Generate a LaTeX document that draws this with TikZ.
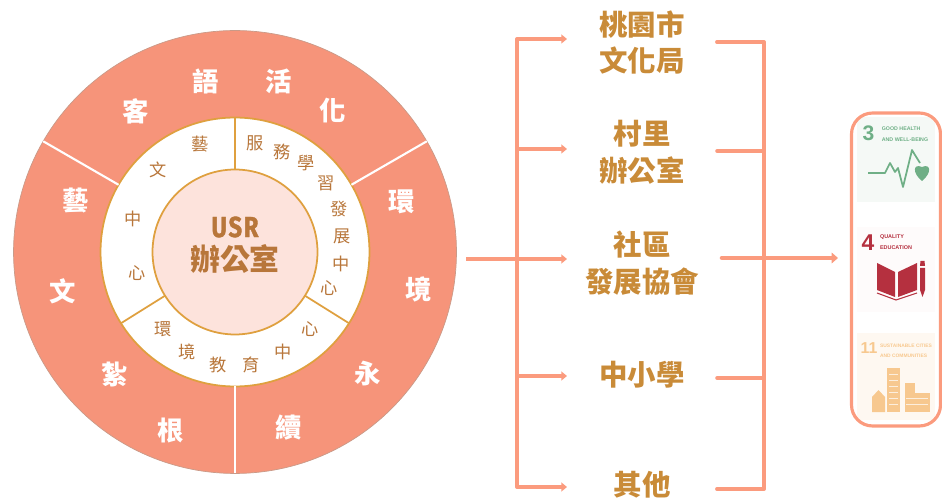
\documentclass[tikz,border=0pt]{standalone}
\usepackage{fontspec}
\usepackage{tikz}
\usetikzlibrary{arrows.meta,calc,positioning}
\newfontfamily\cjkfont{Noto Sans CJK TC}
\newfontfamily\usrfont[FakeStretch=0.82,LetterSpace=6,FakeBold=1.2]{Fira Sans}
\newfontfamily\logofont{Liberation Sans}
\definecolor{ringsalmon}{HTML}{F6947A}
\definecolor{ringedge}{HTML}{C99A88}
\definecolor{ringgold}{HTML}{DFA03F}
\definecolor{corepink}{HTML}{FDE3DC}
\definecolor{coretext}{HTML}{B8763A}
\definecolor{partnertext}{HTML}{C98B38}
\definecolor{linkorange}{HTML}{FB9B7E}
\definecolor{sdggreen}{HTML}{6FAF86}
\definecolor{sdgred}{HTML}{B5303F}
\definecolor{sdgorange}{HTML}{F7C88F}
\tikzset{
	disc/.style = {circle, draw = ringgold, line width = 1pt, inner sep = 0pt, outer sep = 0pt},
	ringword/.style = {font = \cjkfont\bfseries\fontsize{15}{15}\selectfont, text = white, inner sep = 0pt},
	innerword/.style = {font = \cjkfont\fontsize{9.8}{10}\selectfont, text = coretext, inner sep = 0pt},
	partner/.style = {font = \cjkfont\bfseries\fontsize{16.2}{21}\selectfont, text = partnertext, align = center,
		minimum width = 3cm, inner sep = 0pt, outer sep = 0pt},
	trunk/.style = {draw = linkorange, line width = 2.2pt, line cap = round, line join = round},
	branch/.style = {draw = linkorange, line width = 2pt, -{Triangle[width = 5pt, length = 3.2pt]}},
	stub/.style = {draw = linkorange, line width = 2pt, line cap = round}
}
\begin{document}
\begin{tikzpicture}[x = 0.02cm, y = -0.02cm]
	\useasboundingbox (0,0) rectangle (942,499);

	\node[disc, draw = ringedge, line width = 0.4pt, fill = ringsalmon, minimum size = 8.86cm] (outerdisc) at (235,252) {};
	\node[disc, fill = white, minimum size = 5.38cm] (middisc) at (235,252) {};
	\draw[white, line width = 1.2pt] (middisc.30) -- (outerdisc.30);
	\draw[white, line width = 1.2pt] (middisc.150) -- (outerdisc.150);
	\draw[white, line width = 1.2pt] (middisc.270) -- (outerdisc.270);
	\node[disc, fill = corepink, minimum size = 3.3cm] (core) at (235,252) {};
	\draw[ringgold, line width = 1pt] (core.90) -- (middisc.90);
	\draw[ringgold, line width = 1pt] (core.212) -- (middisc.212);
	\draw[ringgold, line width = 1pt] (core.328) -- (middisc.328);
	\node[text = coretext, inner sep = 0pt] (usr) at (235,227) {\usrfont\bfseries\fontsize{16.5}{17}\selectfont USR};
	\node[text = coretext, inner sep = 0pt] (office) at (235,259) {\cjkfont\bfseries\fontsize{17}{17}\selectfont 辦公室};

	\foreach \ch/\px/\py [count = \i] in {客/136/111, 語/205.5/81, 活/278.5/81, 化/333/111, 環/402/202, 境/419/289,
		永/368/374, 續/289/428, 根/171/431, 紮/115/375, 文/63/291, 藝/76/201}
		\node[ringword] (outer\i) at (\px,\py) {\ch};

	\foreach \ch/\px/\py [count = \i] in {藝/200/144, 文/158/170, 中/133/219, 心/137/273, 服/255/143, 務/282/152,
		學/306/163, 習/326/183, 發/339/209, 展/342/236, 中/341/264, 心/329/288, 心/310/329, 中/283/352,
		育/251/365, 教/218/365, 境/187/352, 環/163/329}
		\node[innerword] (inner\i) at (\px,\py) {\ch};

	\node[partner] (cityoffice) at (642,42.5) {桃園市\\文化局};
	\node[partner] (village) at (642,152.5) {村里\\辦公室};
	\node[partner] (community) at (642,263.5) {社區\\發展協會};
	\node[partner] (school) at (642,375) {中小學};
	\node[partner] (others) at (642,485) {其他};

	\coordinate (ltop) at (517,39);
	\coordinate (lvillage) at (517,149);
	\coordinate (lmid) at (517,259);
	\coordinate (lschool) at (517,376);
	\coordinate (lbottom) at (517,487);
	\coordinate (entry) at (466,259);
	\coordinate (rtop) at (764,42);
	\coordinate (rvillage) at (764,151);
	\coordinate (rschool) at (764,378);
	\coordinate (rbottom) at (764,489);
	\coordinate (rout) at (722,258);
	\coordinate (sdgin) at (838,258);

	\draw[trunk] (ltop -| cityoffice.west) ++(-6,0) -- (ltop) -- (lbottom) -- ++(6,0);
	\draw[branch] (ltop) -- (ltop -| cityoffice.west);
	\draw[branch] (lvillage) -- (lvillage -| village.west);
	\draw[branch, line width = 1.85pt] (entry) -- (lmid -| community.west);
	\draw[branch] (lschool) -- (lschool -| school.west);
	\draw[branch] (lbottom) -- (lbottom -| others.west);

	\draw[trunk] (rtop -| cityoffice.east) -- (rtop) -- (rbottom) -- (rbottom -| others.east);
	\draw[stub] (rvillage -| village.east) -- (rvillage);
	\draw[stub] (rschool -| school.east) -- (rschool);
	\draw[draw = linkorange, line width = 2.6pt, line cap = round, -{Triangle[width = 6pt, length = 3.6pt]}] (rout) -- (sdgin);

	\fill[sdggreen, opacity = 0.07] (857,117) rectangle (935,202);
	\node[text = sdggreen, inner sep = 0pt, font = \logofont\bfseries\fontsize{12}{12}\selectfont] (goalthree) at (868.5,133) {3};
	\node[text = sdggreen, inner sep = 0pt, align = left, font = \logofont\bfseries\fontsize{3}{6.4}\selectfont] (goalthreetext) at (905,134) {GOOD HEALTH\\AND WELL-BEING};
	\draw[sdggreen, line width = 1pt, line join = round] (868,173) -- (885,173) -- (890,163) -- (895,172) -- (898,168) -- (903,187) -- (912,150) -- (915,155) -- (920,163);
	\fill[sdggreen] (922,181) .. controls (912,173) and (913,163) .. (922,167) .. controls (931,163) and (932,173) .. (922,181);

	\fill[sdgred, opacity = 0.02] (857,227) rectangle (935,312);
	\node[text = sdgred, inner sep = 0pt, font = \logofont\bfseries\fontsize{13}{13}\selectfont] (goalfour) at (868,243) {4};
	\node[text = sdgred, inner sep = 0pt, align = left, font = \logofont\bfseries\fontsize{3.1}{6.6}\selectfont] (goalfourtext) at (896,242) {QUALITY\\EDUCATION};
	\fill[sdgred] (877,263) -- (895,272) -- (895,297) -- (877,290) -- cycle;
	\fill[sdgred] (898,272) -- (917,263) -- (917,290) -- (898,297) -- cycle;
	\draw[sdgred, line width = 0.6pt] (877,293) -- (896,300) -- (917,293);
	\fill[sdgred] (920,268) -- (925,268) -- (925,290) -- (922.5,297) -- (920,290) -- cycle;
	\fill[sdgred] (920,266) -- (920.5,261) -- (924.5,261) -- (925,266) -- cycle;

	\fill[sdgorange, opacity = 0.13] (857,333) rectangle (935,420);
	\node[text = sdgorange, inner sep = 0pt, font = \logofont\bfseries\fontsize{9}{9}\selectfont] (goaleleven) at (869,348) {11};
	\node[text = sdgorange, inner sep = 0pt, align = left, font = \logofont\bfseries\fontsize{2.8}{6}\selectfont] (goaleleventext) at (906,351) {SUSTAINABLE CITIES\\AND COMMUNITIES};
	\fill[sdgorange] (887,368) rectangle (900,412);
	\fill[sdgorange] (905,383) rectangle (915,412);
	\fill[sdgorange] (915,393) rectangle (930,412);
	\fill[sdgorange] (872,412) -- (872,397) -- (878.5,390) -- (885,397) -- (885,412) -- cycle;
	\foreach \py in {374,380,386,392,398,404}
		\draw[white, line width = 0.4pt, opacity = 0.7] (889,\py) -- (898,\py);
	\foreach \py in {398,404}
		\draw[white, line width = 0.4pt, opacity = 0.7] (906,\py) -- (928,\py);

	\node[draw = linkorange, line width = 1.8pt, rounded corners = 0.42cm, minimum width = 1.78cm, minimum height = 6.26cm, inner sep = 0pt] (sdgpanel) at (896,269.5) {};
\end{tikzpicture}
\end{document}
